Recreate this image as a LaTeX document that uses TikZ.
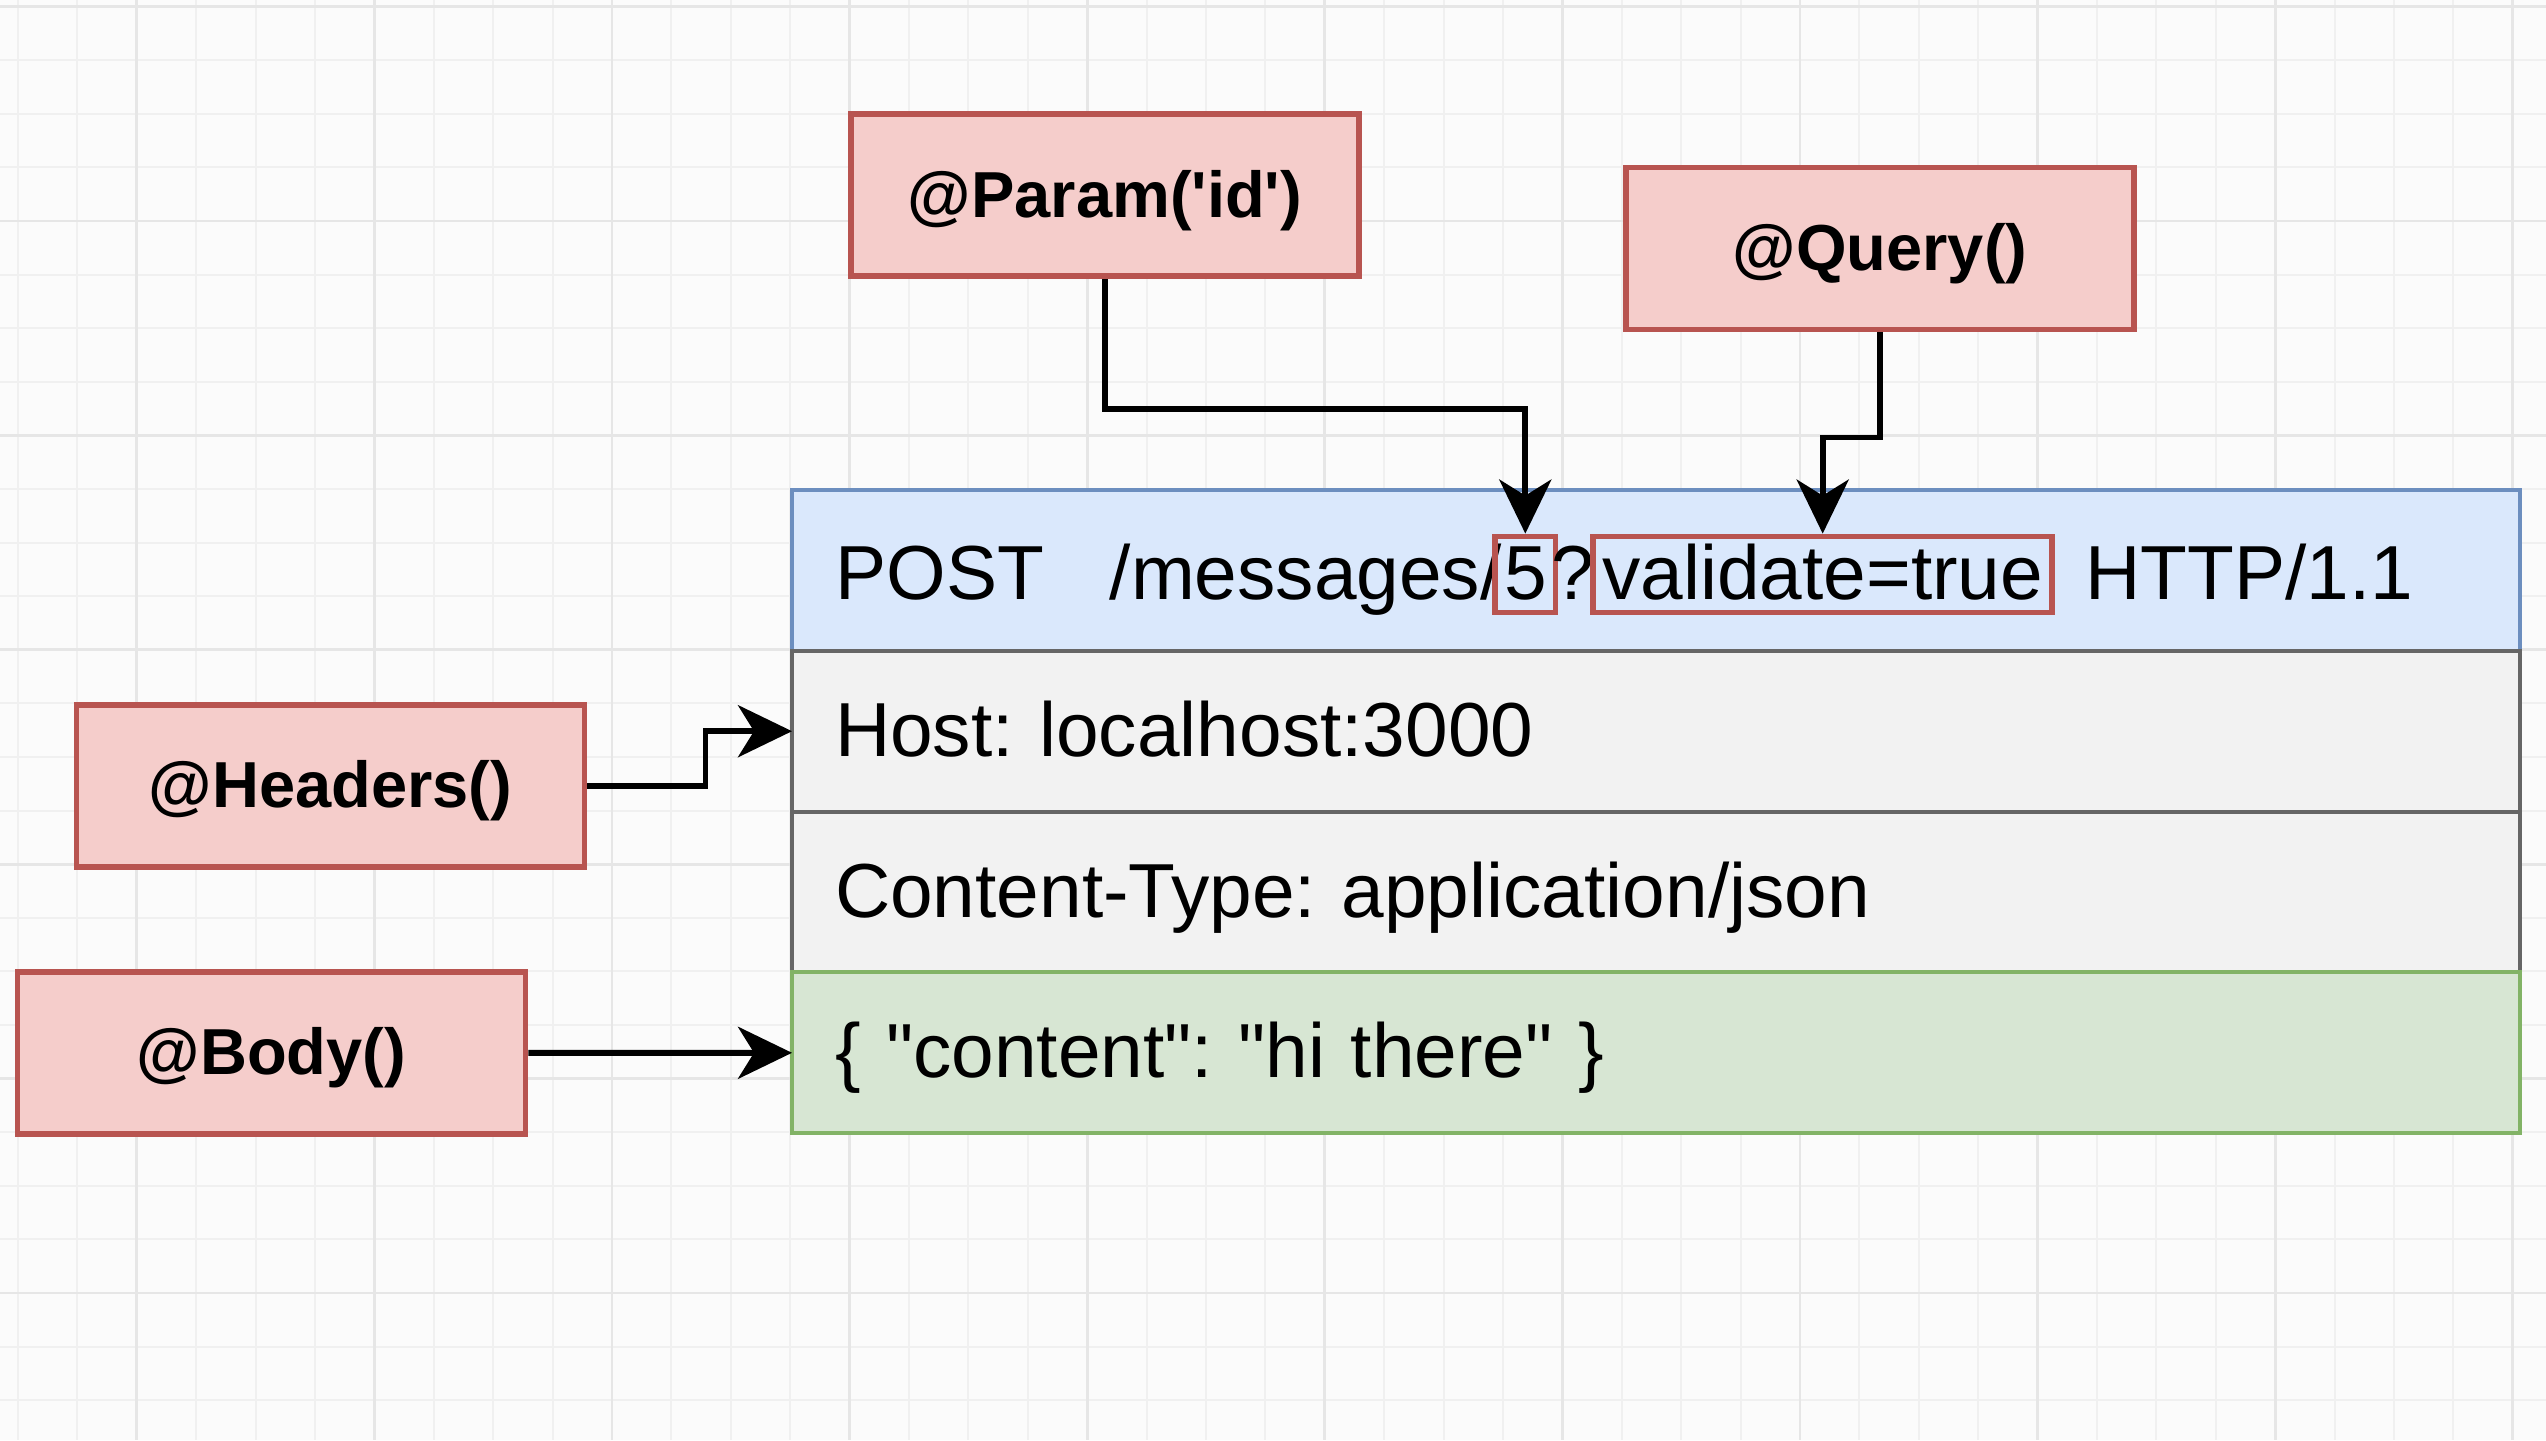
\documentclass[tikz,border=0pt]{standalone}
\usepackage{fontspec}
\newfontfamily\diagfont{Liberation Sans}
\usepackage{tikz}
\frenchspacing
\newcommand{\rowwidth}{17.28cm}
\newcommand{\rowheight}{1.608cm}
\newcommand{\tagwidth}{5.08cm}
\newcommand{\tagheight}{1.62cm}
\definecolor{tagFill}{HTML}{F5CDCB}
\definecolor{tagLine}{HTML}{B85450}
\definecolor{reqFill}{HTML}{DAE8FC}
\definecolor{reqLine}{HTML}{6C8EBF}
\definecolor{headFill}{HTML}{F2F2F2}
\definecolor{headLine}{HTML}{666666}
\definecolor{bodyFill}{HTML}{D7E6D3}
\definecolor{bodyLine}{HTML}{82B366}
\definecolor{canvas}{HTML}{FBFBFB}
\definecolor{gridMinor}{HTML}{F0F0F0}
\definecolor{gridMajor}{HTML}{E6E6E6}
\usetikzlibrary{arrows.meta,positioning}
\tikzset{
  >={Stealth[length=5.4mm,width=5.2mm,inset=1.6mm]},
  font=\diagfont\fontsize{21.8}{26}\selectfont,
  tag/.style={draw=tagLine,fill=tagFill,line width=1.7pt,minimum width=\tagwidth,minimum height=\tagheight,text height=5.0mm,text depth=0.6mm,font=\diagfont\fontsize{18.5}{22}\selectfont\bfseries},
  row/.style={draw,line width=1.1pt,minimum width=\rowwidth,minimum height=\rowheight,inner xsep=4.3mm,text width=16.42cm,text height=5.9mm,text depth=0.9mm,align=left,outer sep=0},
  part/.style={inner xsep=0,inner ysep=0.4mm,text height=5.9mm,text depth=0.9mm},
  hilite/.style={part,draw=tagLine,line width=1.6pt,inner xsep=0.9mm},
  line/.style={draw,->,line width=1.7pt},
}

\begin{document}
\begin{tikzpicture}
    % canvas and grid
    \fill [canvas] (0,0) rectangle (25.46,-14.40);
    \useasboundingbox (0,0) rectangle (25.46,-14.40);
    \foreach \i in {0,...,42}
      \draw [gridMinor,line width=0.6pt] ({0.18+0.594*\i},0) -- ++(0,-14.40);
    \foreach \i in {0,...,26}
      \draw [gridMinor,line width=0.6pt] (0,{-0.066-0.536*\i}) -- ++(25.46,0);
    \foreach \i in {0,...,10}
      \draw [gridMajor,line width=0.8pt] ({1.368+2.376*\i},0) -- ++(0,-14.40);
    \foreach \i in {0,...,6}
      \draw [gridMajor,line width=0.8pt] (0,{-0.066-2.144*\i}) -- ++(25.46,0);

    % decorators
    \node (param) [tag] at (11.05,-1.95) {@Param('id')};
    \node (query) [tag] at (18.80,-2.485) {@Query()};
    \node (headers) [tag] at (3.305,-7.855) {@Headers()};
    \node (body) [tag] at (2.715,-10.528) {@Body()};

    % request
    \node (reqline) [row,draw=reqLine,fill=reqFill,anchor=north west] at (7.92,-4.90) {};
    \node (host) [row,draw=headLine,fill=headFill,below=0 of reqline] {Host: localhost:3000};
    \node (ctype) [row,draw=headLine,fill=headFill,below=0 of host] {Content-Type: application/json};
    \node (payload) [row,draw=bodyLine,fill=bodyFill,below=0 of ctype] {\{ "content": "hi there" \}};

    \node (post) [part,anchor=west,xshift=4.3mm,yshift=-0.4mm] at (reqline.west) {POST};
    \node (path) [part,right=6.4mm of post] {/messages/};
    \node (idpart) [hilite,right=-1.0mm of path] {5};
    \node (qmark) [part,right=-0.8mm of idpart] {?};
    \node (querypart) [hilite,right=-0.4mm of qmark] {validate=true};
    \node (version) [part,right=3mm of querypart] {HTTP/1.1};

    \path [line] (param.south) -- ++(0,-1.30) -| (idpart.north);
    \path [line] (query.south) -- ++(0,-1.05) -| (querypart.north);
    \path [line] (headers.east) -- ++(1.18,0) |- (host.west);
    \path [line] (body.east) -- (payload.west);
\end{tikzpicture}
\end{document}
